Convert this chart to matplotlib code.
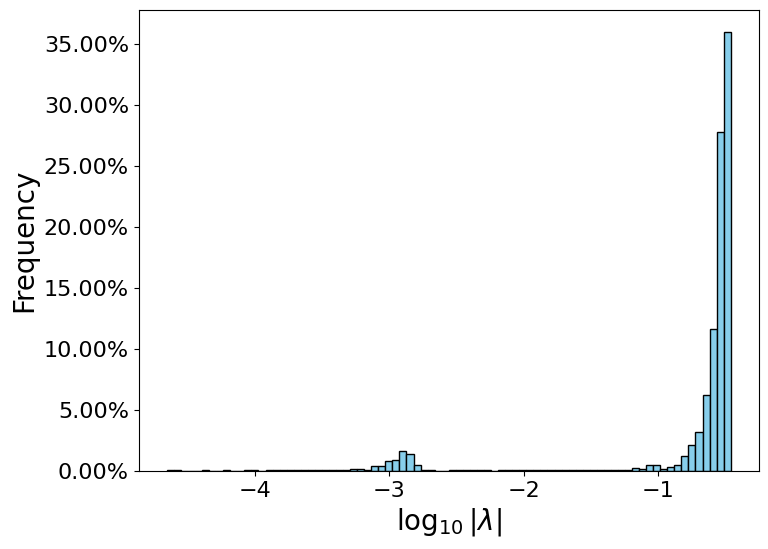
import numpy as np
import matplotlib
matplotlib.use("Agg")
import matplotlib.pyplot as plt
from matplotlib.ticker import PercentFormatter

# Histogram of log10|lambda|, 80 equal-width bins
bin_lo = -4.657
bin_hi = -0.458
n_bins = 80

# Percentage in each bin
freq_pct = [
    0.06, 0.05, 0.0, 0.0, 0.0, 0.06, 0.0, 0.0, 0.05, 0.0,      # 0-9
    0.0, 0.06, 0.05, 0.0, 0.06, 0.05, 0.05, 0.06, 0.05, 0.05,  # 10-19
    0.06, 0.05, 0.05, 0.06, 0.06, 0.10, 0.15, 0.15, 0.06, 0.37,  # 20-29
    0.37, 0.79, 0.88, 1.64, 1.37, 0.52, 0.09, 0.04, 0.0, 0.0,  # 30-39
    0.05, 0.06, 0.05, 0.05, 0.06, 0.05, 0.0, 0.05, 0.05, 0.06,  # 40-49
    0.05, 0.05, 0.06, 0.05, 0.05, 0.06, 0.05, 0.05, 0.06, 0.05,  # 50-59
    0.05, 0.06, 0.05, 0.06, 0.09, 0.09, 0.22, 0.16, 0.48, 0.48,  # 60-69
    0.14, 0.36, 0.48, 1.22, 2.14, 3.18, 6.25, 11.6, 27.75, 35.95,  # 70-79
]

edges = np.linspace(bin_lo, bin_hi, n_bins + 1)
centers = 0.5 * (edges[:-1] + edges[1:])

fig = plt.figure(figsize=(7.68, 5.49), dpi=100)
ax = fig.add_axes([0.1805, 0.1421, 0.8077, 0.8397])

ax.hist(centers, bins=edges, weights=freq_pct, color="skyblue",
        edgecolor="black", linewidth=1.0)

ax.yaxis.set_major_formatter(PercentFormatter(xmax=100, decimals=2))
ax.set_yticks(np.arange(0, 36, 5))
ax.set_xticks([-4, -3, -2, -1])
ax.tick_params(axis="both", labelsize=16)

ax.set_xlabel(r"$\log_{10}|\lambda|$", fontsize=20)
ax.set_ylabel("Frequency", fontsize=20)

fig.savefig("out.png", dpi=100)
